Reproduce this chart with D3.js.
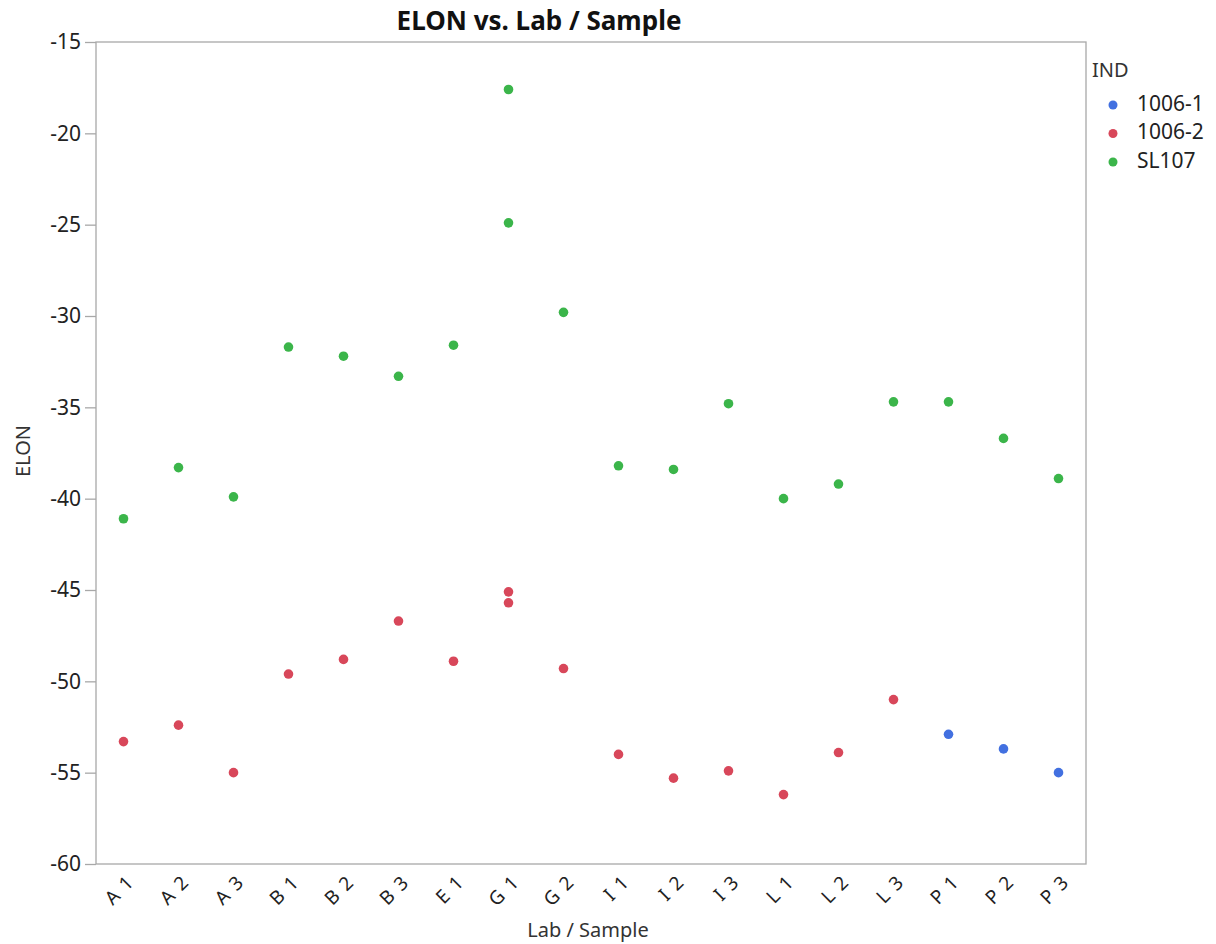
<!DOCTYPE html>
<html>
<head>
<meta charset="utf-8">
<script src="https://cdn.jsdelivr.net/npm/d3@7"></script>
<style>
  body { margin: 0; background: #fff; }
  text { font-family: "Noto Sans", "Open Sans", sans-serif; }
</style>
</head>
<body>
<svg id="chart" width="1216" height="944"></svg>
<script>
// categories on the x axis
var samples = ["A 1","A 2","A 3","B 1","B 2","B 3","E 1","G 1","G 2","I 1","I 2","I 3","L 1","L 2","L 3","P 1","P 2","P 3"];
var groups = ["1006-1","1006-2","SL107"];
var groupColors = ["#4270e0","#d8475a","#3bb54a"];
var yTicks = [-60,-55,-50,-45,-40,-35,-30,-25,-20,-15];

// series values, [sample, ELON]
var ind1006_1 = [["P 1",-52.9],["P 2",-53.7],["P 3",-55.0]];
var ind1006_2 = [["A 1",-53.3],["A 2",-52.4],["A 3",-55.0],["B 1",-49.6],["B 2",-48.8],["B 3",-46.7],
                 ["E 1",-48.9],["G 1",-45.1],["G 1",-45.7],["G 2",-49.3],["I 1",-54.0],["I 2",-55.3],
                 ["I 3",-54.9],["L 1",-56.2],["L 2",-53.9],["L 3",-51.0]];
var sl107 = [["A 1",-41.1],["A 2",-38.3],["A 3",-39.9],["B 1",-31.7],["B 2",-32.2],["B 3",-33.3],
             ["E 1",-31.6],["G 1",-17.6],["G 1",-24.9],["G 2",-29.8],["I 1",-38.2],["I 2",-38.4],
             ["I 3",-34.8],["L 1",-40.0],["L 2",-39.2],["L 3",-34.7],["P 1",-34.7],["P 2",-36.7],
             ["P 3",-38.9]];
var series = [ind1006_1, ind1006_2, sl107];

var svg = d3.select("#chart");
var x0 = 96, x1 = 1086, y0 = 42, y1 = 864;

var x = d3.scaleBand().domain(samples).range([x0, x1]).padding(0);
var y = d3.scaleLinear().domain([-60, -15]).range([y1, y0]);

// frame
svg.append("rect")
    .attr("x", x0).attr("y", y0)
    .attr("width", x1 - x0).attr("height", y1 - y0)
    .attr("fill", "none").attr("stroke", "#a8a8a8").attr("stroke-width", 1.3);

// y axis
var yAxis = svg.append("g")
    .attr("transform", "translate(" + x0 + ",0)")
    .call(d3.axisLeft(y).tickValues(yTicks).tickSize(11).tickPadding(4)
        .tickFormat(function(d) { return String(d); }));
yAxis.select(".domain").remove();
yAxis.selectAll("line").attr("stroke", "#a8a8a8").attr("stroke-width", 1.3);
yAxis.selectAll("text").style("font-size", "21px").attr("fill", "#222");

// x axis
var xAxis = svg.append("g")
    .attr("transform", "translate(0," + y1 + ")")
    .call(d3.axisBottom(x).tickSize(0));
xAxis.select(".domain").remove();
xAxis.selectAll("text")
    .style("font-size", "19px")
    .style("letter-spacing", "1.5px")
    .attr("fill", "#222")
    .style("text-anchor", "end")
    .attr("dy", 0)
    .attr("transform", "translate(10,17) rotate(-45)");

// points
series.forEach(function(s, i) {
    svg.append("g").selectAll("circle")
        .data(s)
        .enter().append("circle")
        .attr("cx", function(d) { return x(d[0]) + x.bandwidth()/2; })
        .attr("cy", function(d) { return y(d[1]); })
        .attr("r", 4.8)
        .attr("fill", groupColors[i]);
});

// titles
svg.append("text")
    .attr("x", 539).attr("y", 30)
    .style("text-anchor", "middle")
    .style("font-size", "26px").style("font-weight", "bold")
    .attr("fill", "#111")
    .text("ELON vs. Lab / Sample");

svg.append("text")
    .attr("x", 588).attr("y", 937)
    .style("text-anchor", "middle")
    .style("font-size", "20px")
    .attr("fill", "#333")
    .text("Lab / Sample");

svg.append("text")
    .attr("transform", "translate(30,451) rotate(-90)")
    .style("text-anchor", "middle")
    .style("font-size", "20px")
    .attr("fill", "#333")
    .text("ELON");

// legend
svg.append("text")
    .attr("x", 1092).attr("y", 77)
    .style("font-size", "20px")
    .attr("fill", "#333")
    .text("IND");

groups.forEach(function(g, i) {
    var ly = 105 + i*28.5;
    svg.append("circle")
        .attr("cx", 1113).attr("cy", ly).attr("r", 4.5)
        .attr("fill", groupColors[i]);
    svg.append("text")
        .attr("x", 1137).attr("y", ly)
        .attr("dominant-baseline", "middle")
        .style("font-size", "21px")
        .attr("fill", "#222")
        .text(g);
});
</script>
</body>
</html>
